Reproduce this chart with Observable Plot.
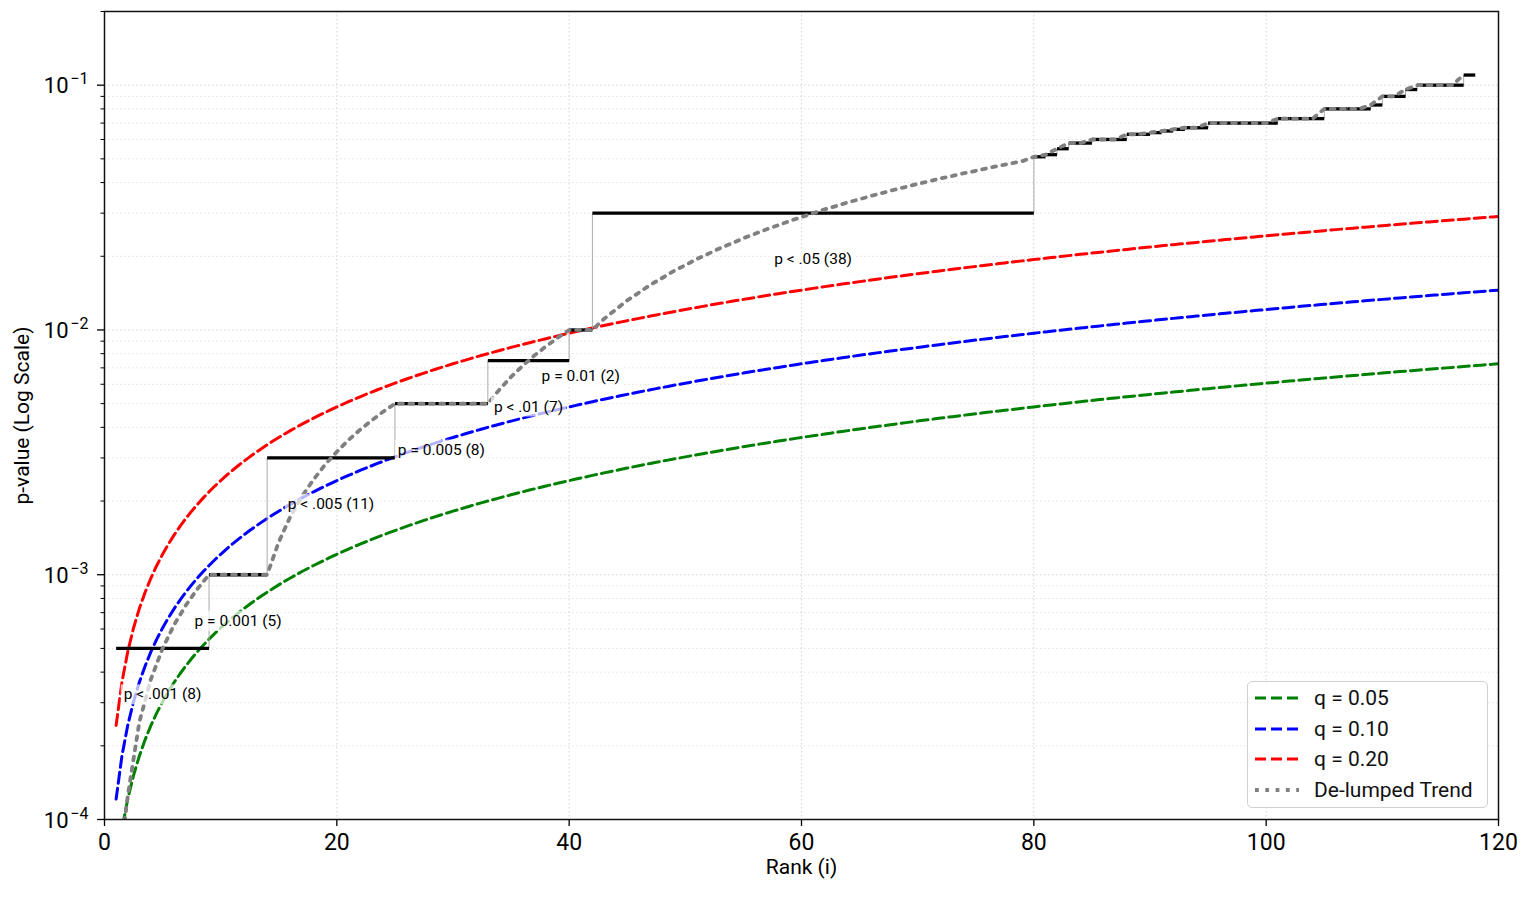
<!DOCTYPE html>
<html>
<head>
<meta charset="utf-8">
<script src="https://cdn.jsdelivr.net/npm/d3@7"></script>
<script src="https://cdn.jsdelivr.net/npm/@observablehq/plot@0.6"></script>
<style>
  body { margin: 0; background: #fff; font-family: Roboto, "Noto Sans", sans-serif; }
  #wrap { position: relative; width: 1533px; height: 901px; overflow: hidden; }
  .legend { position: absolute; left: 1247px; top: 681px; width: 241px; height: 127px;
            border: 1.5px solid #d0d0d0; border-radius: 5px; background: rgba(255,255,255,0.85);
            box-sizing: border-box; }
  .row { position: absolute; left: 0; height: 30px; display: flex; align-items: center; font-size: 21px; color: #111; }
  .row svg { margin-left: 7px; margin-right: 15px; }
</style>
</head>
<body>
<div id="wrap"></div>
<script>
// ---------- data ----------
const lumpLabels = ["p < .001 (8)", "p = 0.001 (5)", "p < .005 (11)", "p = 0.005 (8)", "p < .01 (7)", "p = 0.01 (2)", "p < .05 (38)"];
const lumpCounts = [8, 5, 11, 8, 7, 2, 38];
const lumpP = [0.0005, 0.001, 0.003, 0.005, 0.0075, 0.01, 0.03];

const firstExactRank = 80;
const exactP = [0.051, 0.052, 0.055, 0.058, 0.058, 0.06, 0.06, 0.06, 0.063, 0.063,
                0.064, 0.065, 0.066, 0.067, 0.067, 0.07, 0.07, 0.07, 0.07, 0.07,
                0.07, 0.073, 0.073, 0.073, 0.073, 0.08, 0.08, 0.08, 0.08, 0.083,
                0.09, 0.09, 0.096, 0.1, 0.1, 0.1, 0.1, 0.11];

// de-lumped trend values for ranks 1..79 (ranks 80+ follow the exact values)
const trendLumpedP = [0.00005,
  0.000125, 0.00025, 0.000375, 0.0005, 0.000625, 0.00075, 0.000875,
  0.001, 0.001, 0.001, 0.001, 0.001,
  0.001, 0.00136, 0.00173, 0.00209, 0.00245, 0.00282, 0.00318, 0.00355, 0.00391, 0.00427, 0.00464,
  0.005, 0.005, 0.005, 0.005, 0.005, 0.005, 0.005, 0.005,
  0.005, 0.00571, 0.00643, 0.00714, 0.00786, 0.00857, 0.00929,
  0.01, 0.01,
  0.01, 0.0111, 0.0121, 0.0132, 0.0142, 0.0153, 0.0163, 0.0174, 0.0184, 0.0195,
  0.0205, 0.0216, 0.0226, 0.0237, 0.0247, 0.0258, 0.0268, 0.0279, 0.0289, 0.03,
  0.0311, 0.0321, 0.0332, 0.0342, 0.0353, 0.0363, 0.0374, 0.0384, 0.0395, 0.0405,
  0.0416, 0.0426, 0.0437, 0.0447, 0.0458, 0.0468, 0.0479, 0.0489];

const qLevels = [0.05, 0.10, 0.20];
const qColors = ["#008000", "#0000ff", "#ff0000"];
const qLegend = ["q = 0.05", "q = 0.10", "q = 0.20"];
const mTests = 825;
const maxRank = 120;

const xTicks = [0, 20, 40, 60, 80, 100, 120];
const yTicks = [1e-4, 1e-3, 1e-2, 1e-1];
const yTickExp = ["\u22124", "\u22123", "\u22122", "\u22121"];

// ---------- derived tables ----------
const lumpStarts = lumpCounts.map((c, k) => 1 + d3.sum(lumpCounts.slice(0, k)));
const lumps = lumpCounts.map((c, k) => ({x1: lumpStarts[k], x2: lumpStarts[k] + c, p: lumpP[k], label: lumpLabels[k]}));
const steps = lumps.concat(exactP.map((p, k) => ({x1: firstExactRank + k, x2: firstExactRank + k + 1, p})));
const risers = steps.slice(1).map((s, k) => ({x: s.x1, p0: steps[k].p, p1: s.p})).filter(r => r.p0 !== r.p1);
const trendVals = trendLumpedP.concat(exactP);
const trend = trendVals.map((p, k) => ({rank: k + 1, p}));
const bhX = d3.range(1, maxRank + 0.001, 0.5);
const bh = qLevels.map(q => bhX.map(i => ({rank: i, p: q * i / mTests})));

const minorTicks = d3.scaleLog().domain([1e-4, 0.2]).ticks().filter(t => !yTicks.some(v => Math.abs(v - t) / t < 1e-9));

const BH_DASH = "11,5";
const TREND_DASH = "3.8,6.5";
const gridStyle = {stroke: "#d4d4d4", strokeOpacity: 1, strokeWidth: 1, strokeDasharray: "1.5,2.5"};

const chart = Plot.plot({
  width: 1533, height: 901,
  marginLeft: 104, marginRight: 35, marginTop: 11, marginBottom: 82,
  style: {fontFamily: "Roboto, 'Noto Sans', sans-serif", background: "white", color: "black", overflow: "visible"},
  x: {domain: [0, maxRank]},
  y: {type: "log", domain: [1e-4, 0.2]},
  marks: [
    Plot.gridX(xTicks, gridStyle),
    Plot.gridY(yTicks, gridStyle),
    Plot.gridY(minorTicks, {...gridStyle, stroke: "#e0e0e0"}),
    ...bh.map((line, k) => Plot.line(line, {x: "rank", y: "p", stroke: qColors[k], strokeWidth: 3, strokeDasharray: BH_DASH, clip: true})),
    Plot.link(risers, {x1: "x", x2: "x", y1: "p0", y2: "p1", stroke: "#aaaaaa", strokeWidth: 1}),
    Plot.link(steps, {x1: "x1", x2: "x2", y1: "p", y2: "p", stroke: "black", strokeWidth: 3.3}),
    Plot.line(trend, {x: "rank", y: "p", stroke: "#808080", strokeWidth: 3.8, strokeDasharray: TREND_DASH, clip: true}),
    Plot.text(lumps, {x: d => (d.x1 + d.x2) / 2, y: "p", dy: 46, text: "label", fontSize: 15.5, fill: "black"}),
    Plot.frame({stroke: "#111", strokeWidth: 1.5}),
    Plot.axisX(xTicks, {tickSize: 7, tickPadding: 7, fontSize: 23, label: null, strokeWidth: 1.3, tickFormat: d => String(d)}),
    Plot.axisY(yTicks, {tickSize: 7, tickFormat: () => "", label: null, strokeWidth: 1.3}),
    Plot.axisY(minorTicks, {tickSize: 3.5, tickFormat: () => "", label: null, strokeWidth: 1}),
    Plot.text(yTicks, {y: d => d, frameAnchor: "left", dx: -36, dy: 1, textAnchor: "end", text: () => "10", fontSize: 22}),
    Plot.text(yTicks, {y: d => d, frameAnchor: "left", dx: -16, dy: -6, textAnchor: "end", text: (d, i) => yTickExp[i], fontSize: 16}),
    Plot.text(["Rank (i)"], {frameAnchor: "bottom", dy: 54, textAnchor: "middle", text: d => d, fontSize: 21}),
    Plot.text(["p-value (Log Scale)"], {frameAnchor: "left", dx: -82, rotate: -90, textAnchor: "middle", text: d => d, fontSize: 21})
  ]
});

const wrap = document.getElementById("wrap");
wrap.appendChild(chart);

// semi-transparent white boxes behind lump labels
d3.select(chart).selectAll("text").each(function() {
  if (!lumpLabels.includes(this.textContent)) return;
  const b = this.getBBox();
  const r = document.createElementNS("http://www.w3.org/2000/svg", "rect");
  r.setAttribute("x", b.x - 3); r.setAttribute("y", b.y - 1);
  r.setAttribute("width", b.width + 6); r.setAttribute("height", b.height + 2);
  r.setAttribute("fill", "white"); r.setAttribute("fill-opacity", 0.7);
  if (this.getAttribute("transform")) r.setAttribute("transform", this.getAttribute("transform"));
  this.parentNode.insertBefore(r, this);
});

// legend
const legend = document.createElement("div");
legend.className = "legend";
const items = qLegend.map((t, k) => ({text: t, color: qColors[k], dash: BH_DASH, w: 3}))
  .concat([{text: "De-lumped Trend", color: "#808080", dash: TREND_DASH, w: 3.8}]);
items.forEach((it, k) => {
  const row = document.createElement("div");
  row.className = "row";
  row.style.top = (1 + k * 30.5) + "px";
  row.innerHTML = `<svg width="44" height="10"><line x1="0" y1="5" x2="44" y2="5" stroke="${it.color}" stroke-width="${it.w}" stroke-dasharray="${it.dash}"/></svg><span>${it.text}</span>`;
  legend.appendChild(row);
});
wrap.appendChild(legend);
</script>
</body>
</html>
